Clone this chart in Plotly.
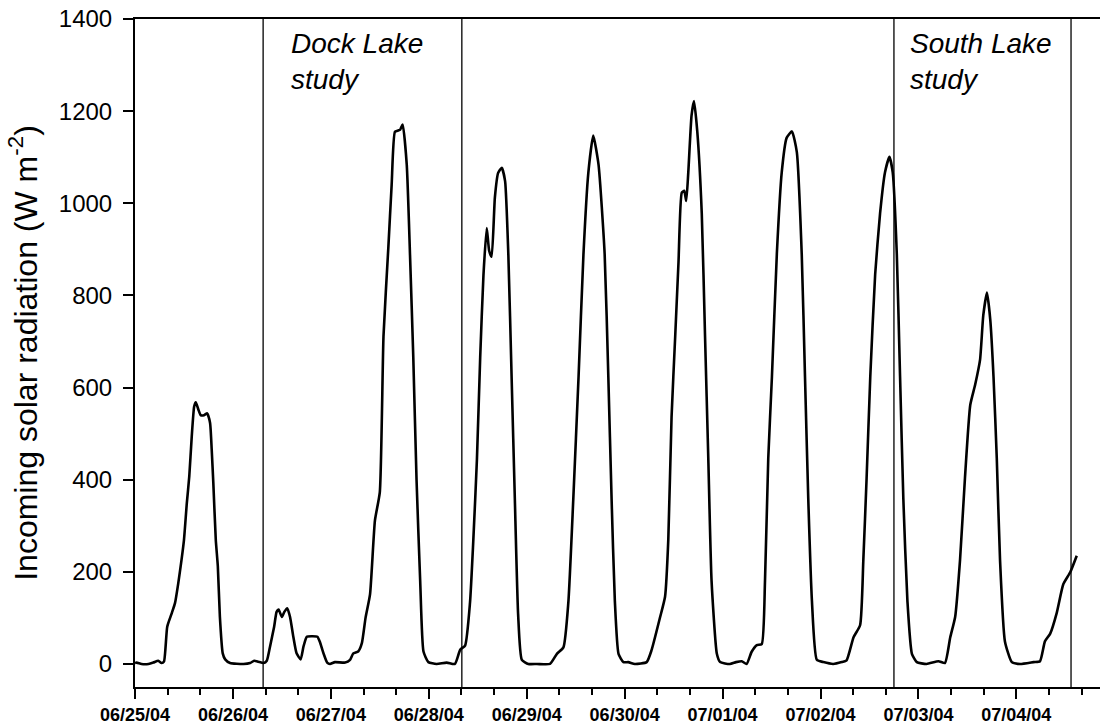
import pandas as pd
import plotly.graph_objects as go

# Hours elapsed since 06/25/04 00:00 and incoming solar radiation (W m-2)
hours = [
    0.0, 0.4, 1.6, 3.3, 4.5, 5.7, 6.5, 7.1, 7.9, 9.0, 9.8, 10.6, 11.4, 12.0,
    12.7, 13.3, 13.9, 14.5, 14.9, 15.5, 16.1, 16.9, 17.7, 18.4, 18.8, 19.2,
    19.8, 20.3, 20.8, 21.5, 22.1, 23.3, 26.6, 28.2, 29.2, 30.2, 31.5,
    32.3, 33.1, 34.1, 34.7, 35.2, 36.0, 36.6, 37.3, 38.0, 38.8, 39.6, 40.6,
    41.3, 42.1, 43.3, 44.7, 45.3, 46.2, 47.1, 47.8, 49.0, 51.5, 52.7, 53.5,
    54.7, 55.6, 56.5, 57.6, 58.8, 60.0, 60.9, 62.1, 62.9, 63.7, 64.5, 65.0,
    65.6, 66.6, 67.4, 68.2, 69.0, 69.9, 70.7, 71.9, 73.9, 76.4, 78.4,
    79.7, 80.9, 82.1, 82.9, 83.8, 84.6, 85.4, 86.2, 86.8, 87.4, 88.2, 89.0,
    89.9, 90.7, 91.5, 92.3, 93.1, 93.9, 94.8, 96.4, 98.5, 101.7,
    103.4, 105.0, 106.2, 107.4, 108.7, 109.9, 111.1, 112.3, 113.6, 115.1,
    116.0, 116.8, 117.6, 118.5, 119.7, 120.9, 122.5, 125.4,
    126.6, 128.7, 129.9, 130.7, 131.5, 132.4, 133.2, 134.0, 134.6, 135.1,
    135.6, 136.4, 137.0, 137.8, 138.9, 139.7, 140.5, 141.3, 142.6, 143.4,
    145.8, 147.3, 148.7, 149.9,
    151.1, 152.4, 153.6, 154.4, 155.2, 156.1, 157.3, 158.5, 159.7, 161.0,
    162.2, 163.4, 164.2, 165.0, 165.9, 167.1, 168.7, 171.1, 173.2, 174.4,
    176.1, 177.7, 178.5, 179.3, 180.2, 181.4, 182.6, 183.8, 184.9, 185.7,
    186.7, 187.5, 188.3, 189.3, 190.4, 191.6, 194.0, 196.9, 198.5,
    199.8, 201.0, 202.2, 203.4, 204.7, 205.9, 207.1, 207.9, 208.8, 209.6,
    210.4, 211.2, 212.0, 213.2, 214.9, 216.9, 220.2, 221.8,
    223.0, 224.3, 225.9, 227.5, 229.2, 230.8,
]
radiation = [
    2, 3, 0, 0, 3, 7, 2, 5, 81, 110, 132, 175, 226, 269,
    349, 407, 493, 559, 568, 553, 540, 540, 544, 523, 465, 392,
    269, 212, 103, 23, 10, 2, 0, 2, 7, 5, 2,
    7, 38, 81, 113, 118, 102, 113, 121, 102, 59, 23, 10,
    38, 59, 60, 59, 48, 23, 3, 0, 4, 3, 9, 23,
    27, 45, 100, 151, 311, 373, 711, 906, 1040, 1155, 1158, 1160,
    1171, 1084, 888, 666, 400, 178, 27, 4, 0, 3, 0,
    31, 40, 133, 266, 444, 666, 844, 946, 897, 884, 1013, 1066,
    1077, 1048, 888, 622, 355, 107, 9, 0, 0, 0,
    22, 36, 133, 355, 622, 888, 1066, 1147, 1084, 890,
    624, 359, 137, 22, 4, 4, 0, 4,
    30, 102, 146, 270, 536, 713, 872, 1023, 1027, 1005,
    1067, 1191, 1222, 1156, 978, 713, 447, 181, 22, 4,
    0, 4, 6, 0,
    26, 41, 43, 181, 447, 624, 890, 1067, 1142, 1156,
    1111, 890, 624, 359, 137, 9, 4, 0, 4, 8,
    58, 84, 226, 403, 624, 846, 978, 1067, 1101, 1067,
    890, 624, 359, 137, 22, 4, 0, 6, 2,
    58, 102, 226, 403, 562, 606, 660, 757, 806, 748,
    624, 447, 226, 49, 4, 0, 4, 6,
    49, 66, 111, 173, 199, 235,
]

# Start/end of the two lake studies
study_bounds = ["2004-06-26 07:24", "2004-06-28 08:06",
                "2004-07-02 18:00", "2004-07-04 13:24"]
study_labels = ["Dock Lake<br>study", "South Lake<br>study"]
label_pos = [0.1596, 0.801]

start = pd.Timestamp("2004-06-25 00:00")
times = start + pd.to_timedelta(hours, unit="h")
x_end = start + pd.Timedelta(hours=236.5)

fig = go.Figure()
fig.add_trace(go.Scatter(
    x=times, y=radiation, mode="lines",
    line=dict(color="black", width=2.6, shape="spline", smoothing=0.5),
    showlegend=False, hoverinfo="skip",
))

for b in study_bounds:
    fig.add_shape(type="line", xref="x", yref="paper",
                  x0=b, x1=b, y0=0, y1=1,
                  line=dict(color="black", width=1.3))

for txt, xp in zip(study_labels, label_pos):
    fig.add_annotation(text=txt, xref="paper", yref="paper",
                       x=xp, y=0.99, xanchor="left", yanchor="top",
                       align="left", showarrow=False,
                       font=dict(family="Liberation Sans, Arial", size=28,
                                 color="black", style="italic"))

fig.update_layout(
    width=1100, height=727,
    margin=dict(l=135, r=0, t=19, b=40),
    paper_bgcolor="white", plot_bgcolor="white",
    font=dict(family="Liberation Sans, Arial", color="black"),
)

fig.update_xaxes(
    type="date", range=[start, x_end],
    tick0="2004-06-25", dtick=86400000, tickformat="%m/%d/%y",
    ticks="outside", ticklen=10, tickwidth=1.5, tickcolor="black",
    minor=dict(dtick=8 * 3600000, ticks="outside", ticklen=6,
               tickwidth=1.5, tickcolor="black", showgrid=False),
    tickfont=dict(family="Liberation Sans, Arial", size=18, weight="bold"),
    showline=True, linecolor="black", linewidth=2, mirror=True,
    showgrid=False, zeroline=False,
)

fig.update_yaxes(
    range=[-50, 1400], tick0=0, dtick=200,
    ticks="outside", ticklen=10, tickwidth=1.5, tickcolor="black",
    ticklabelstandoff=6,
    tickfont=dict(family="Liberation Sans, Arial", size=24),
    title=dict(text="Incoming solar radiation (W m<sup>-2</sup>)",
               font=dict(family="Liberation Sans, Arial", size=32),
               standoff=12),
    showline=True, linecolor="black", linewidth=2,
    showgrid=False, zeroline=False,
)

fig.write_html("out.html")
